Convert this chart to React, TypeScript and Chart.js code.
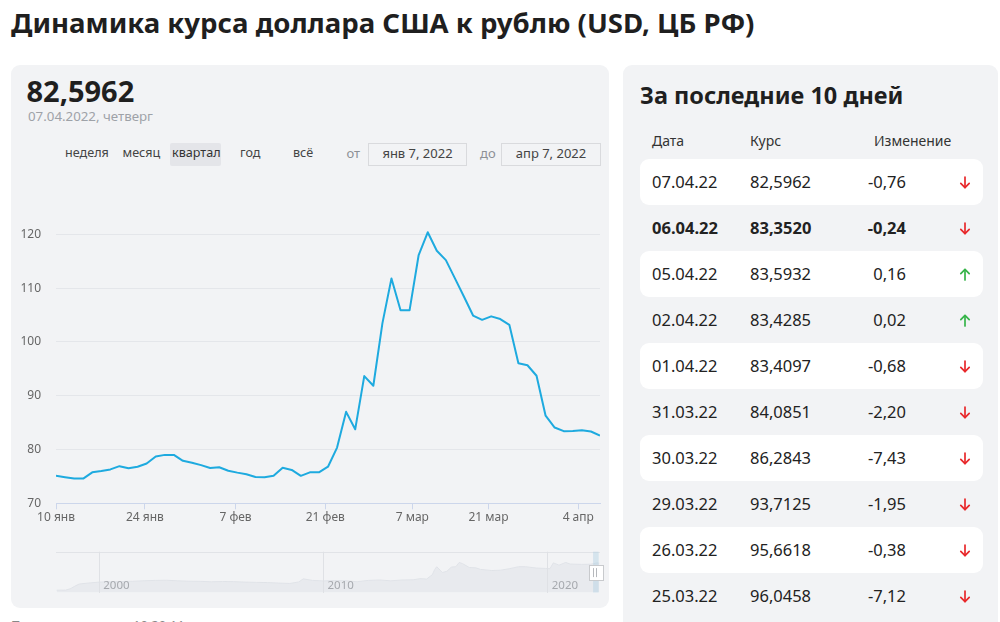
import React, { useEffect, useRef } from "react";
import { Chart, registerables } from "chart.js";

Chart.register(...registerables);

// ---------- data ----------
const rateValues = [
  75.1, 74.85, 74.6, 74.6, 75.76, 76.0, 76.3, 76.9, 76.5, 76.8,
  77.4, 78.7, 79.0, 79.0, 77.9, 77.55, 77.1, 76.55, 76.7, 76.05,
  75.7, 75.4, 74.9, 74.85, 75.1, 76.6, 76.2, 75.1, 75.75, 75.75,
  76.8, 80.35, 87.0, 83.75, 93.65, 91.85, 103.45, 111.8, 105.9, 105.9,
  116.15, 120.38, 116.95, 115.2, 111.8, 108.4, 104.9, 104.1, 104.75, 104.25,
  103.17, 96.0458, 95.6618, 93.7125, 86.2843, 84.0851, 83.4097, 83.4285, 83.5932, 83.352,
  82.5962,
];
const xTickIndex = [0, 9.8, 19.8, 29.7, 39.3, 47.7, 57.6];
const xTickLabels = ["10 янв", "24 янв", "7 фев", "21 фев", "7 мар", "21 мар", "4 апр"];
const yTicks = [70, 80, 90, 100, 110, 120];

const navYears = [
  1998.1, 1998.5, 1998.7, 1998.9, 1999.1, 1999.5, 2000.0, 2000.5, 2001.0, 2001.5,
  2002.0, 2002.5, 2003.0, 2003.5, 2004.0, 2004.5, 2005.0, 2005.5, 2006.0, 2006.5,
  2007.0, 2007.5, 2008.0, 2008.5, 2008.9, 2009.1, 2009.5, 2010.0, 2010.5, 2011.0,
  2011.5, 2012.0, 2012.5, 2013.0, 2013.5, 2014.0, 2014.3, 2014.6, 2014.85, 2014.96,
  2015.05, 2015.3, 2015.5, 2015.7, 2015.9, 2016.05, 2016.2, 2016.5, 2016.8, 2017.0,
  2017.5, 2017.9, 2018.3, 2018.7, 2019.0, 2019.5, 2019.9, 2020.1, 2020.25, 2020.5,
  2020.8, 2021.0, 2021.5, 2021.9, 2022.05, 2022.2, 2022.3,
];
const navValues = [
  6.0, 6.2, 9.5, 16.0, 22.0, 24.5, 27.0, 28.2, 28.5, 29.2,
  30.5, 31.4, 31.8, 30.4, 29.3, 29.0, 27.8, 28.6, 28.2, 27.0,
  26.3, 25.8, 24.5, 23.5, 27.5, 35.5, 31.5, 30.0, 31.0, 30.5,
  28.0, 31.5, 32.5, 30.4, 32.5, 33.0, 36.0, 35.0, 46.0, 60.0,
  67.0, 52.0, 55.0, 66.0, 67.0, 78.0, 75.0, 65.0, 64.0, 60.0,
  57.0, 58.0, 62.0, 67.0, 67.0, 63.5, 62.5, 62.0, 77.0, 71.0,
  78.0, 74.0, 73.0, 73.5, 75.0, 77.0, 76.0,
];
const navYearTicks = [2000, 2010, 2020];
const navSelectedRange = [2022.02, 2022.27];

const tableDates = ["07.04.22", "06.04.22", "05.04.22", "02.04.22", "01.04.22", "31.03.22", "30.03.22", "29.03.22", "26.03.22", "25.03.22"];
const tableRates = ["82,5962", "83,3520", "83,5932", "83,4285", "83,4097", "84,0851", "86,2843", "93,7125", "95,6618", "96,0458"];
const tableChanges = [-0.76, -0.24, 0.16, 0.02, -0.68, -2.2, -7.43, -1.95, -0.38, -7.12];

const rangeButtons = ["неделя", "месяц", "квартал", "год", "всё"];
const activeRange = "квартал";
const fromDate = "янв 7, 2022";
const toDate = "апр 7, 2022";

// ---------- styling ----------
const FF = "'Noto Sans', sans-serif";
const LINE = "#1eaadf";
const CARD = "#f2f3f5";

function Txt(props: {
  x: number; y: number; size: number; weight?: number; color?: string;
  anchor?: "left" | "right" | "center"; children: React.ReactNode;
}) {
  const { x, y, size, weight = 400, color = "#222", anchor = "left", children } = props;
  const tr = anchor === "right" ? "translateX(-100%)" : anchor === "center" ? "translateX(-50%)" : undefined;
  return (
    <div
      style={{
        position: "absolute", left: x, top: y - 0.888 * size, fontSize: size, lineHeight: 1,
        fontWeight: weight, color, whiteSpace: "nowrap", transform: tr, fontFamily: FF,
      }}
    >
      {children}
    </div>
  );
}

function Arrow({ x, y, up, color }: { x: number; y: number; up: boolean; color: string }) {
  return (
    <svg style={{ position: "absolute", left: x - 6, top: y - 6.5 }} width={12} height={13} viewBox="0 0 12 13">
      <g fill="none" stroke={color} strokeWidth={1.7} strokeLinecap="round" strokeLinejoin="round">
        {up ? (
          <>
            <path d="M6 12 L6 1.5" />
            <path d="M1.8 5.6 L6 1.3 L10.2 5.6" />
          </>
        ) : (
          <>
            <path d="M6 1 L6 11.5" />
            <path d="M1.8 7.4 L6 11.7 L10.2 7.4" />
          </>
        )}
      </g>
    </svg>
  );
}

function MainChart() {
  const ref = useRef<HTMLCanvasElement>(null);
  useEffect(() => {
    const chart = new Chart(ref.current!, {
      type: "line",
      data: {
        datasets: [{
          data: rateValues.map((v, i) => ({ x: i, y: v })),
          borderColor: LINE, borderWidth: 2, pointRadius: 0, tension: 0, fill: false,
          borderJoinStyle: "round",
        }],
      },
      options: {
        animation: false, responsive: false, maintainAspectRatio: false,
        layout: { padding: { top: 17.4, right: 9, left: 0, bottom: 0 } },
        plugins: { legend: { display: false }, tooltip: { enabled: false } },
        scales: {
          x: {
            type: "linear", min: 0, max: rateValues.length - 1,
            afterBuildTicks: (s: any) => { s.ticks = xTickIndex.map((v) => ({ value: v })); },
            afterFit: (s: any) => { s.height = 36.7; s.paddingLeft = 0; s.paddingRight = 0; },
            ticks: {
              callback: (_v: any, i: number) => xTickLabels[i],
              color: "#666", font: { size: 12, family: FF }, padding: 1, maxRotation: 0, autoSkip: false,
            },
            grid: { drawOnChartArea: false, drawTicks: true, tickLength: 6, color: "#ccd6eb" },
            border: { color: "#ccd6eb", width: 1 },
          },
          y: {
            min: 70, max: 125,
            afterBuildTicks: (s: any) => { s.ticks = yTicks.map((v) => ({ value: v })); },
            afterFit: (s: any) => { s.width = 45; s.paddingTop = 0; s.paddingBottom = 0; },
            ticks: { color: "#666", padding: 15, font: { size: 12, family: FF } },
            grid: { color: "#e4e6ea", drawTicks: false },
            border: { display: false },
          },
        },
      },
    });
    return () => chart.destroy();
  }, []);
  return <canvas ref={ref} width={598} height={350} style={{ position: "absolute", left: 11, top: 190, width: 598, height: 350 }} />;
}

const navPlugin = {
  id: "navDecor",
  afterDatasetsDraw(chart: any) {
    const { ctx, chartArea, scales } = chart;
    const x = scales.x;
    ctx.save();
    ctx.strokeStyle = "#e1e3e7";
    ctx.lineWidth = 1;
    ctx.beginPath();
    ctx.moveTo(chartArea.left, Math.round(chartArea.top) + 0.5);
    ctx.lineTo(chartArea.right, Math.round(chartArea.top) + 0.5);
    ctx.stroke();
    ctx.fillStyle = "#a6a9ae";
    ctx.font = `11.5px ${FF}`;
    ctx.textBaseline = "alphabetic";
    navYearTicks.forEach((yr) => {
      ctx.fillText(String(yr), x.getPixelForValue(yr) + 4, chartArea.bottom - 3.5);
    });
    const m0 = x.getPixelForValue(navSelectedRange[0]);
    const m1 = x.getPixelForValue(navSelectedRange[1]);
    ctx.fillStyle = "rgba(170,205,225,0.4)";
    ctx.fillRect(m0, chartArea.top, m1 - m0, chartArea.bottom - chartArea.top);
    const cx = (m0 + m1) / 2;
    const cy = (chartArea.top + chartArea.bottom) / 2;
    ctx.fillStyle = "#ffffff";
    ctx.strokeStyle = "#c8cacd";
    ctx.fillRect(Math.round(cx - 7), Math.round(cy - 7), 14, 15);
    ctx.strokeRect(Math.round(cx - 7) + 0.5, Math.round(cy - 7) + 0.5, 14, 15);
    ctx.strokeStyle = "#b5b8bc";
    ctx.beginPath();
    ctx.moveTo(Math.round(cx - 3) + 0.5, cy - 4);
    ctx.lineTo(Math.round(cx - 3) + 0.5, cy + 5);
    ctx.moveTo(Math.round(cx) + 0.5, cy - 4);
    ctx.lineTo(Math.round(cx) + 0.5, cy + 5);
    ctx.stroke();
    ctx.restore();
  },
};

function NavigatorChart() {
  const ref = useRef<HTMLCanvasElement>(null);
  useEffect(() => {
    const chart = new Chart(ref.current!, {
      type: "line",
      data: {
        datasets: [{
          data: navYears.map((y, i) => ({ x: y, y: navValues[i] })),
          borderColor: "#e0e3e8", borderWidth: 1, pointRadius: 0, tension: 0,
          fill: "start", backgroundColor: "#e8eaee",
        }],
      },
      options: {
        animation: false, responsive: false, maintainAspectRatio: false,
        layout: { padding: { top: 5.7, right: 9, left: 6, bottom: 5.5 } },
        plugins: { legend: { display: false }, tooltip: { enabled: false } },
        scales: {
          x: {
            type: "linear", min: 1998.07, max: 2022.33,
            afterBuildTicks: (s: any) => { s.ticks = navYearTicks.map((v) => ({ value: v })); },
            afterFit: (s: any) => { s.height = 0; s.paddingLeft = 0; s.paddingRight = 0; },
            ticks: { display: false },
            grid: { drawTicks: false, color: "#dfe1e5", z: 1 },
            border: { display: false },
          },
          y: { display: false, min: 0, max: 106 },
        },
      },
      plugins: [navPlugin],
    });
    return () => chart.destroy();
  }, []);
  return <canvas ref={ref} width={559} height={52} style={{ position: "absolute", left: 50, top: 546, width: 559, height: 52 }} />;
}

const btnX: Record<string, number> = { "неделя": 65, "месяц": 122.5, "квартал": 172, "год": 240, "всё": 293 };

function fmtChange(v: number) {
  return v.toFixed(2).replace(".", ",");
}

export default function App() {
  return (
    <div style={{ position: "absolute", left: 0, top: 0, width: 1000, height: 622, overflow: "hidden", background: "#fff", fontFamily: FF }}>
      <Txt x={11} y={33.5} size={27.6} weight={700} color="#1f1f1f">
        Динамика курса доллара США к рублю (USD, ЦБ РФ)
      </Txt>

      {/* left card */}
      <div style={{ position: "absolute", left: 11, top: 65, width: 598, height: 543, background: CARD, borderRadius: 9 }} />
      <Txt x={26.5} y={101.7} size={29} weight={700} color="#1f1f1f">{tableRates[0]}</Txt>
      <Txt x={28} y={121.7} size={13.3} color="#9ea2a8">07.04.2022, четверг</Txt>

      <div style={{ position: "absolute", left: 170, top: 143, width: 51, height: 23, background: "#e4e5e9", borderRadius: 2 }} />
      {rangeButtons.map((b) => (
        <Txt key={b} x={btnX[b]} y={158.3} size={12.6} color={b === activeRange ? "#333" : "#444"}>{b}</Txt>
      ))}
      <Txt x={346.5} y={158.3} size={13} color="#8d9095">от</Txt>
      <div style={{ position: "absolute", left: 368, top: 143, width: 97, height: 21, border: "1px solid #d9dadd" }} />
      <Txt x={417.5} y={158.3} size={13} color="#444" anchor="center">{fromDate}</Txt>
      <Txt x={480} y={158.3} size={13} color="#8d9095">до</Txt>
      <div style={{ position: "absolute", left: 501, top: 143, width: 98, height: 21, border: "1px solid #d9dadd" }} />
      <Txt x={551} y={158.3} size={13} color="#444" anchor="center">{toDate}</Txt>

      <MainChart />
      <NavigatorChart />

      <Txt x={11} y={631} size={13} color="#888">Последнее</Txt>
      <Txt x={133} y={631} size={13} color="#888">10.20.11</Txt>

      {/* right card */}
      <div style={{ position: "absolute", left: 623, top: 65, width: 375, height: 600, background: CARD, borderRadius: 9 }} />
      <Txt x={640} y={105} size={23.5} weight={700} color="#1f1f1f">За последние 10 дней</Txt>
      <Txt x={652} y={146} size={14} color="#333">Дата</Txt>
      <Txt x={750} y={146} size={14} color="#333">Курс</Txt>
      <Txt x={874} y={146} size={14} color="#333">Изменение</Txt>
      {tableDates.map((d, i) => {
        const top = 159 + 46 * i;
        const base = top + 29.3;
        const w = i === 1 ? 700 : 400;
        const ch = tableChanges[i];
        return (
          <React.Fragment key={d}>
            {i % 2 === 0 && (
              <div style={{ position: "absolute", left: 640, top, width: 343, height: 46, background: "#fff", borderRadius: 9 }} />
            )}
            <Txt x={652} y={base} size={16.5} weight={w} color="#222">{d}</Txt>
            <Txt x={750} y={base} size={16.5} weight={w} color="#222">{tableRates[i]}</Txt>
            <Txt x={906} y={base} size={16.5} weight={w} color="#222" anchor="right">{fmtChange(ch)}</Txt>
            <Arrow x={964.5} y={top + 23} up={ch >= 0} color={ch < 0 ? "#e8282b" : "#36b449"} />
          </React.Fragment>
        );
      })}
    </div>
  );
}
